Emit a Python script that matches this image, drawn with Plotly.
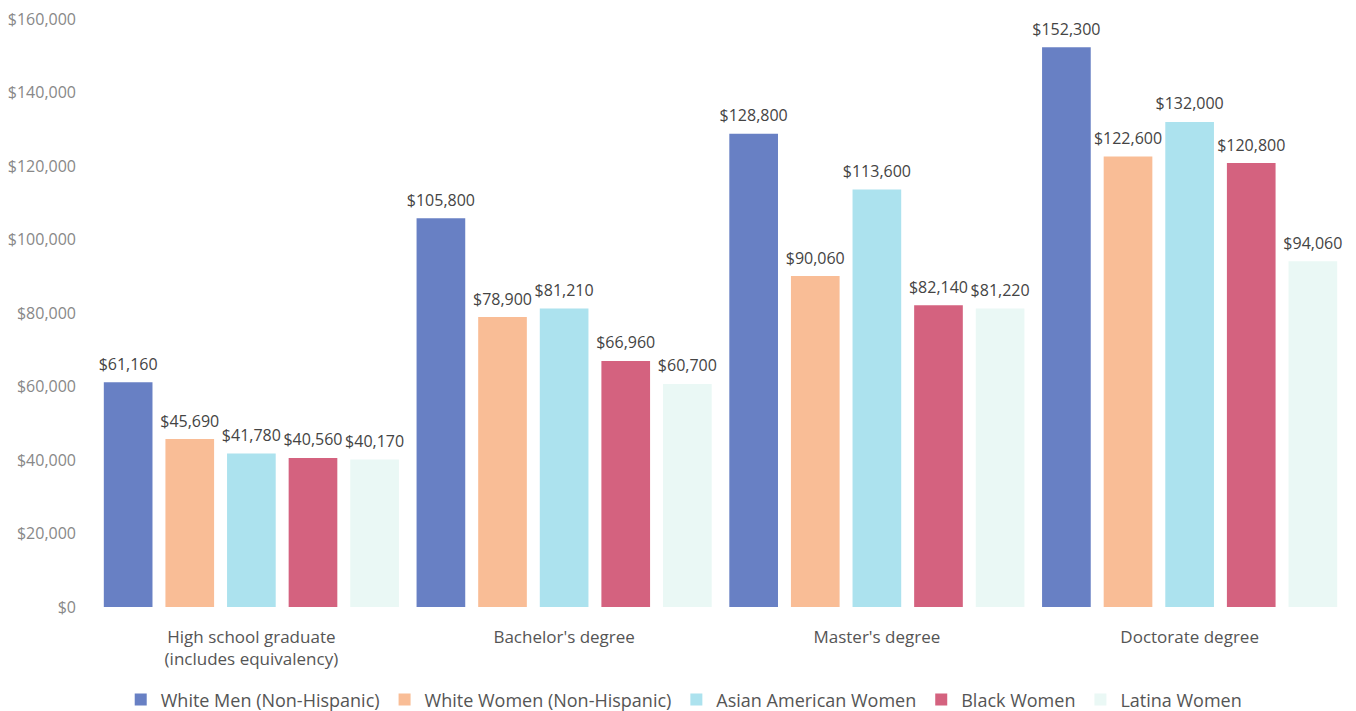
import plotly.graph_objects as go

categories = ["High school graduate<br>(includes equivalency)", "Bachelor's degree", "Master's degree", "Doctorate degree"]
series_names = ["White Men (Non-Hispanic)", "White Women (Non-Hispanic)", "Asian American Women", "Black Women", "Latina Women"]
white_men = [61160, 105800, 128800, 152300]
white_women = [45690, 78900, 90060, 122600]
asian_women = [41780, 81210, 113600, 132000]
black_women = [40560, 66960, 82140, 120800]
latina_women = [40170, 60700, 81220, 94060]
colors = ["#6880c4", "#f9bd96", "#ace2ee", "#d4627f", "#eaf8f5"]
y_ticks = [0, 20000, 40000, 60000, 80000, 100000, 120000, 140000, 160000]
y_tick_labels = ["$0", "$20,000", "$40,000", "$60,000", "$80,000", "$100,000", "$120,000", "$140,000", "$160,000"]

FONT = "Open Sans, Noto Sans, sans-serif"
GAP = 0.015

fig = go.Figure()
all_vals = [white_men, white_women, asian_women, black_women, latina_women]
for name, vals, col in zip(series_names, all_vals, colors):
    fig.add_trace(go.Bar(
        name=name, x=categories, y=vals,
        marker=dict(color=col, line=dict(width=0)),
        textposition="none", hoverinfo="x+y",
    ))
for name, vals in zip(series_names, all_vals):
    fig.add_trace(go.Scatter(
        x=categories, y=vals, mode="markers+text",
        text=[f"${v:,}" for v in vals], textposition="top center",
        textfont=dict(family=FONT, size=16, color="#444"),
        marker=dict(size=12, color="rgba(0,0,0,0)"),
        showlegend=False, hoverinfo="skip", cliponaxis=False,
    ))

fig.update_layout(
    width=1348, height=703,
    paper_bgcolor="white", plot_bgcolor="white",
    margin=dict(l=87, r=10, t=11, b=104, autoexpand=False),
    barmode="group", bargap=GAP, bargroupgap=0.21,
    scattermode="group", scattergap=GAP,
    font=dict(family=FONT, color="#555"),
    legend=dict(orientation="h", x=0.471, xanchor="center", y=-0.158, yanchor="middle",
                font=dict(family=FONT, size=18, color="#555"), itemwidth=30, traceorder="normal"),
)
fig.update_yaxes(range=[0, 160000], tickvals=y_ticks, ticktext=y_tick_labels,
                 showgrid=False, zeroline=False, showline=False, automargin=False,
                 ticklabeloverflow="allow",
                 tickfont=dict(family=FONT, size=16, color="#888"), ticklabelstandoff=18)
fig.update_xaxes(showgrid=False, showline=False, automargin=False,
                 tickfont=dict(family=FONT, size=17, color="#555"), ticklabelstandoff=18)

fig.write_html("out.html")
